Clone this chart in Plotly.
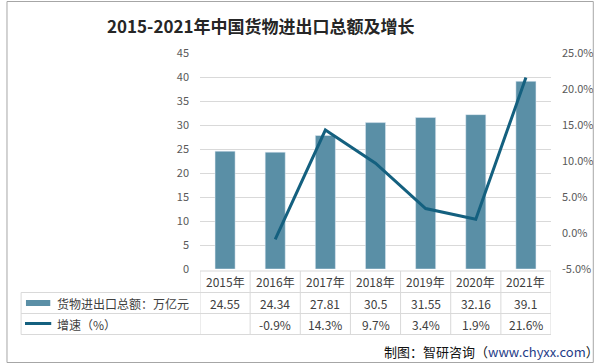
import plotly.graph_objects as go

years = ["2015年", "2016年", "2017年", "2018年", "2019年", "2020年", "2021年"]
totals = [24.55, 24.34, 27.81, 30.5, 31.55, 32.16, 39.1]
growth = [None, -0.9, 14.3, 9.7, 3.4, 1.9, 21.6]
total_labels = ["24.55", "24.34", "27.81", "30.5", "31.55", "32.16", "39.1"]
growth_labels = ["", "-0.9%", "14.3%", "9.7%", "3.4%", "1.9%", "21.6%"]
left_ticks = [0, 5, 10, 15, 20, 25, 30, 35, 40, 45]
right_ticks = [-5, 0, 5, 10, 15, 20, 25]
series_names = ["货物进出口总额：万亿元", "增速（%）"]
title = "2015-2021年中国货物进出口总额及增长"
source = "制图：智研咨询（<span style='color:#1f3c88'>www.chyxx.com</span>）"

W, H = 606, 364
L, R, T, B = 200, 45, 53, 95
BAR = "#5a8fa6"
LINE = "#14607f"
FONT = "Noto Sans CJK SC"
TXT = "#404040"
GRID = "#d9d9d9"
idx = list(range(len(years)))

fig = go.Figure()
fig.add_trace(go.Bar(x=idx, y=totals, marker_color=BAR, width=0.4, name=series_names[0], yaxis="y"))
fig.add_trace(go.Scatter(x=idx, y=growth, mode="lines", line=dict(color=LINE, width=3),
                         name=series_names[1], yaxis="y2", connectgaps=False))

ph = H - T - B
pw = W - L - R
def pp(pix):
    return (H - B - pix) / ph
def px(pixx):
    return (pixx - L) / pw

shapes = []
ann = []
line_style = dict(color=GRID, width=1)
y_top, y_r1, y_r2, y_bot = 271, 292.5, 313.5, 334.5
shapes.append(dict(type="line", xref="x", yref="paper", x0=-0.5, x1=6.5, y0=pp(y_top), y1=pp(y_top), line=line_style))
for yy in (y_r1, y_r2, y_bot):
    shapes.append(dict(type="line", xref="paper", yref="paper", x0=px(16), x1=1, y0=pp(yy), y1=pp(yy), line=line_style))
shapes.append(dict(type="line", xref="paper", yref="paper", x0=px(16), x1=px(16), y0=pp(y_r1), y1=pp(y_bot), line=line_style))
for k in range(len(years) + 1):
    shapes.append(dict(type="line", xref="x", yref="paper", x0=k - 0.5, x1=k - 0.5, y0=pp(y_top), y1=pp(y_bot), line=line_style))

for i in idx:
    ann.append(dict(x=i, y=pp((y_top + y_r1) / 2), xref="x", yref="paper", text=years[i], showarrow=False,
                    font=dict(size=12, color=TXT, family=FONT), xanchor="center", yanchor="middle"))
    ann.append(dict(x=i, y=pp((y_r1 + y_r2) / 2), xref="x", yref="paper", text=total_labels[i], showarrow=False,
                    font=dict(size=12, color=TXT, family=FONT), xanchor="center", yanchor="middle"))
    ann.append(dict(x=i, y=pp((y_r2 + y_bot) / 2), xref="x", yref="paper", text=growth_labels[i], showarrow=False,
                    font=dict(size=12, color=TXT, family=FONT), xanchor="center", yanchor="middle"))

shapes.append(dict(type="rect", xref="paper", yref="paper", x0=px(21), x1=px(46), y0=pp(306), y1=pp(300),
                   fillcolor=BAR, line=dict(width=0)))
shapes.append(dict(type="line", xref="paper", yref="paper", x0=px(20), x1=px(47), y0=pp(323.5), y1=pp(323.5),
                   line=dict(color=LINE, width=3)))
ann.append(dict(x=px(51), y=pp((y_r1 + y_r2) / 2), xref="paper", yref="paper", text=series_names[0], showarrow=False,
                font=dict(size=12, color=TXT, family=FONT), xanchor="left", yanchor="middle"))
ann.append(dict(x=px(51), y=pp((y_r2 + y_bot) / 2), xref="paper", yref="paper", text=series_names[1], showarrow=False,
                font=dict(size=12, color=TXT, family=FONT), xanchor="left", yanchor="middle"))

ann.append(dict(x=px(263), y=pp(25), xref="paper", yref="paper", text="<b>" + title + "</b>", showarrow=False,
                font=dict(size=17, color="#262626", family=FONT), xanchor="center", yanchor="middle"))
ann.append(dict(x=px(387), y=pp(351), xref="paper", yref="paper", text=source, showarrow=False,
                font=dict(size=13, color="#111111", family=FONT), xanchor="left", yanchor="middle"))

shapes.append(dict(type="rect", xref="paper", yref="paper", x0=px(1.5), x1=px(604.5), y0=pp(362.5), y1=pp(1.5),
                   line=dict(color="#a6a6a6", width=1), fillcolor="rgba(0,0,0,0)"))

fig.update_layout(
    width=W, height=H,
    margin=dict(l=L, r=R, t=T, b=B),
    paper_bgcolor="white", plot_bgcolor="white",
    showlegend=False,
    font=dict(family=FONT, color="#595959", size=11),
    xaxis=dict(range=[-0.5, 6.5], showticklabels=False, showgrid=False, zeroline=False, ticks="", fixedrange=True),
    yaxis=dict(range=[0, 45], tickvals=left_ticks, showgrid=True, gridcolor=GRID, gridwidth=1, zeroline=False,
               ticks="", ticklabelstandoff=10, tickfont=dict(size=11, color="#595959"), showline=False),
    yaxis2=dict(range=[-5, 25], tickvals=right_ticks, ticktext=[f"{v:.1f}%" for v in right_ticks],
                overlaying="y", side="right", showgrid=False, zeroline=False, ticks="",
                ticklabelstandoff=10, tickfont=dict(size=11, color="#595959")),
    shapes=shapes,
    annotations=ann,
)

fig.write_html("out.html", config={"displayModeBar": False},
               post_script="document.body.style.margin='0';document.body.style.overflow='hidden';")
